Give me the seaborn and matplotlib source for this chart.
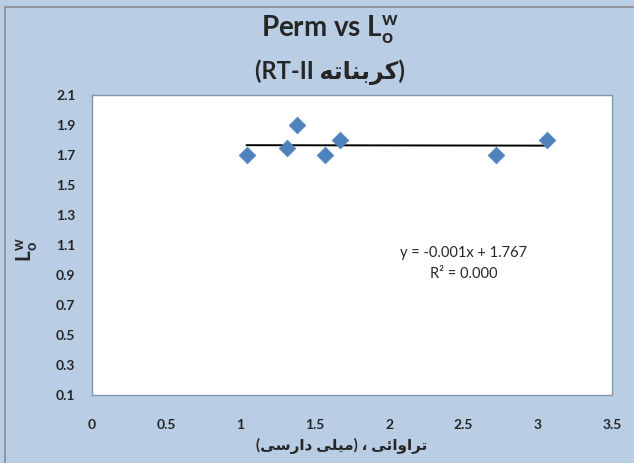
import matplotlib
matplotlib.use('Agg')
import matplotlib.pyplot as plt
import numpy as np
import pandas as pd
import seaborn as sns
from matplotlib.patches import Rectangle

# data
perm = [1.04, 1.31, 1.38, 1.57, 1.67, 2.72, 3.06]
low = [1.70, 1.75, 1.90, 1.70, 1.80, 1.70, 1.80]
x_ticks = [0, 0.5, 1, 1.5, 2, 2.5, 3, 3.5]
y_ticks = [0.1, 0.3, 0.5, 0.7, 0.9, 1.1, 1.3, 1.5, 1.7, 1.9, 2.1]
x_tick_labels = ['0', '0.5', '1', '1.5', '2', '2.5', '3', '3.5']
y_tick_labels = ['0.1', '0.3', '0.5', '0.7', '0.9', '1.1', '1.3', '1.5', '1.7', '1.9', '2.1']

# persian text, pre-shaped (presentation forms) in visual order
carbonate = '\uFEEA\uFE97\uFE8E\uFEE8\uFE91\uFEAE\uFEDB'
taravaee = '\uFEF0\uFE8B\uFE8D\uFEED\uFE8D\uFEAE\uFE97'
mili = '\uFEF0\uFEE0\uFEF4\uFEE3'
darsi = '\uFEF0\uFEB3\uFEAD\uFE8D\uFEA9'
title_1 = r'Perm vs L$_\mathbf{o}^\mathbf{w}$'
title_2 = '(RT-II ' + carbonate + ')'
x_label = '(' + darsi + ' ' + mili + ')' + ' \u060C ' + taravaee
y_label = r'L$_\mathbf{o}^\mathbf{w}$'
eq_text = 'y = -0.001x + 1.767'
r2_text = 'R\u00b2 = 0.000'

df = pd.DataFrame({'perm': perm, 'low': low})

sns.set_style('white')
plt.rcParams['font.family'] = ['Lato', 'DejaVu Sans']
plt.rcParams['mathtext.fontset'] = 'custom'
plt.rcParams['mathtext.rm'] = 'Lato'
plt.rcParams['mathtext.bf'] = 'Lato:bold'
plt.rcParams['mathtext.it'] = 'Lato:italic'

bg = '#B9CDE5'
fig = plt.figure(figsize=(6.34, 4.63), dpi=100, facecolor=bg)
ax = fig.add_axes([92 / 634, 1 - 395 / 463, 520 / 634, 300 / 463])
ax.set_facecolor('white')

sns.regplot(data=df, x='perm', y='low', ax=ax, scatter=False, ci=None,
            truncate=True, line_kws={'color': 'black', 'lw': 1.4})
sns.scatterplot(data=df, x='perm', y='low', ax=ax, marker='D', s=72,
                color='#4F81BD', edgecolor='#4F81BD', linewidth=0.5, zorder=3)

ax.set_xlim(0, 3.5)
ax.set_ylim(0.1, 2.1)
ax.set_xticks(x_ticks)
ax.set_xticklabels(x_tick_labels, fontweight='bold', fontsize=10)
ax.set_yticks(y_ticks)
ax.set_yticklabels(y_tick_labels, fontweight='bold', fontsize=10)
ax.tick_params(axis='x', length=0, pad=17)
ax.tick_params(axis='y', length=0, pad=12)
ax.set_xlabel('')
ax.set_ylabel('')
for sp in ax.spines.values():
    sp.set_color('#8497B0')
    sp.set_linewidth(1.0)

ax.text(0.715, 0.473, eq_text, transform=ax.transAxes, ha='center', va='center', fontsize=10.5)
ax.text(0.715, 0.405, r2_text, transform=ax.transAxes, ha='center', va='center', fontsize=10.5)

fig.text(330 / 634, 1 - 30 / 463, title_1, ha='center', va='center',
         fontsize=20, fontweight='bold')
fig.text(330 / 634, 1 - 72 / 463, title_2, ha='center', va='center',
         fontsize=17, fontweight='bold')
fig.text(342 / 634, 1 - 446 / 463, x_label, ha='center', va='center',
         fontsize=11, fontweight='bold')
fig.text(27 / 634, 1 - 250 / 463, y_label, ha='center', va='center',
         fontsize=15, fontweight='bold', rotation=90)

fig.patches.append(Rectangle((5 / 634, -0.05), 1.1, 1 - 7 / 463 + 0.05,
                             transform=fig.transFigure, fill=False,
                             edgecolor='#8C8C8C', lw=1.2))

fig.savefig('out.png', dpi=100, facecolor=bg)
